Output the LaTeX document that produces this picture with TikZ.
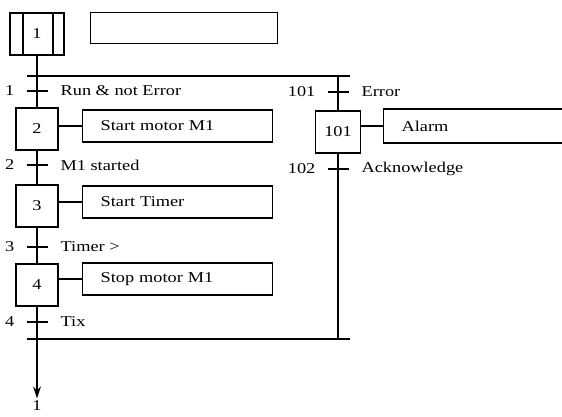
\documentclass[tikz,border=0pt]{standalone}
\usepackage{fontspec}
\setmainfont{Liberation Serif}[FakeStretch=1.22]
\usepackage{tikz}
\usetikzlibrary{positioning,arrows.meta}

\begin{document}
\begin{tikzpicture}[x=1pt, y=-1pt, line width=1.3pt,
    font=\fontsize{15}{18}\selectfont,
    stepbox/.style={draw, minimum width=42pt, minimum height=42pt, inner sep=0pt},
    actbox/.style={draw, anchor=west, minimum height=32pt, text width=154pt,
      inner xsep=18pt, inner ysep=0pt, align=left}]
				\useasboundingbox (0,0) rectangle (562,416);
				% Initial step
				\node[stepbox, minimum width=54pt] (s1) at (37,34) {1};
				\draw ([xshift=-14pt]s1.north) -- ([xshift=-14pt]s1.south);
				\draw ([xshift=16pt]s1.north) -- ([xshift=16pt]s1.south);
				\node[actbox, minimum height=31pt, text width=151pt] (a1) at (90,28) {};
				% Steps and actions
				\node[stepbox] (s2) at (37,129) {2};
				\node[actbox] (a2) at (82,126) {Start motor M1};
				\node[stepbox] (s3) at (37,206) {3};
				\node[actbox] (a3) at (82,202) {Start Timer};
				\node[stepbox] (s4) at (37,285) {4};
				\node[actbox] (a4) at (82,279) {Stop motor M1};
				\node[stepbox, minimum width=45pt] (s101) at (338,132) {101};
				\node[actbox, minimum height=34pt, text width=170pt] (a101) at (383,126) {Alarm};
				\foreach \s in {2,3,4,101}
					\draw (a\s.west) -- (a\s.west -| s\s.east);
				% Divergence and convergence
				\coordinate (dl) at (27,76);
				\coordinate (dr) at (350,76);
				\coordinate (cl) at (27,339);
				\coordinate (cr) at (350,339);
				\draw (dl) -- (dr);
				\draw (cl) -- (cr);
				% Links
				\draw (s1) -- (s2);
				\draw (s2) -- (s3);
				\draw (s3) -- (s4);
				\draw (dr -| s101) -- (s101);
				\draw (s101) -- (cr -| s101);
				\node[inner sep=2pt] (ret) at (37,406) {1};
				\draw[-{Stealth[length=12pt,width=8pt]}] (s4) -- (ret);
				% Transitions
				\foreach \n/\x/\y/\t in {1/37/91/Run \& not Error, 2/37/165/M1 started,
					3/37/247/Timer >, 4/37/322/Tix, 101/338/92/Error, 102/338/169/Acknowledge} {
					\coordinate (t\n) at (\x,\y);
					\draw ([xshift=-10pt]t\n) -- ([xshift=11pt]t\n);
					\node[left, inner sep=0pt] (n\n) at ([xshift=-22pt]t\n) {\n};
					\node[right, inner sep=0pt] (c\n) at ([xshift=23pt]t\n) {\t};
				}
			\end{tikzpicture}
\end{document}
